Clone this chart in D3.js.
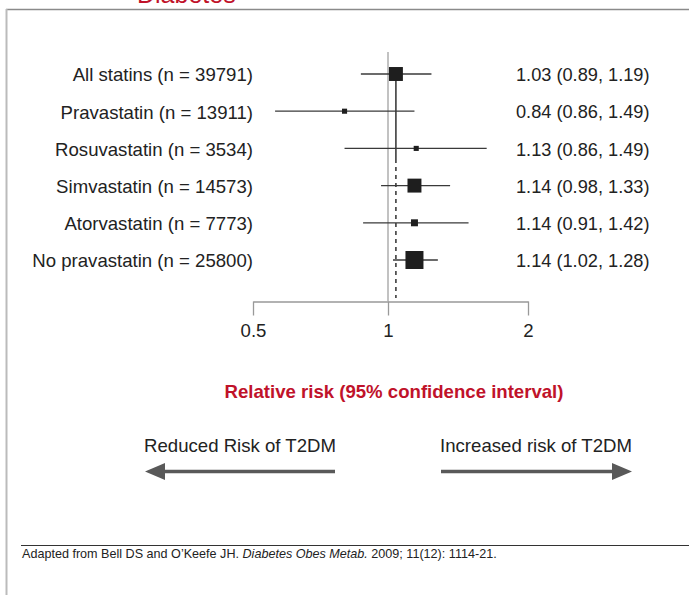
<!DOCTYPE html>
<html>
<head>
<meta charset="utf-8">
<script src="https://cdn.jsdelivr.net/npm/d3@7"></script>
<style>
  body { margin: 0; background: #fff; }
  svg { display: block; font-family: "Liberation Sans", Arial, sans-serif; }
</style>
</head>
<body>
<svg id="chart" width="689" height="595"></svg>
<script>
// Study rows, top to bottom
const labels = [
    'All statins (n = 39791)',
    'Pravastatin (n = 13911)',
    'Rosuvastatin (n = 3534)',
    'Simvastatin (n = 14573)',
    'Atorvastatin (n = 7773)',
    'No pravastatin (n = 25800)'
];
// Relative risk and CI as drawn in the plot
const rr = [1.04, 0.80, 1.15, 1.14, 1.14, 1.14];
const lo = [0.87, 0.56, 0.80, 0.965, 0.88, 1.025];
const hi = [1.24, 1.14, 1.63, 1.36, 1.49, 1.28];
// Relative weight of each study (square area)
const weights = [0.6, 0.08, 0.08, 0.6, 0.15, 1.0];
// Printed estimates on the right
const ciText = [
    '1.03 (0.89, 1.19)',
    '0.84 (0.86, 1.49)',
    '1.13 (0.86, 1.49)',
    '1.14 (0.98, 1.33)',
    '1.14 (0.91, 1.42)',
    '1.14 (1.02, 1.28)'
];
const overall = 1.04;
const tickValues = [0.5, 1, 2];

const svg = d3.select('#chart');
const red = '#c0122a';
const fs = '18.6px';

const rows = labels.map((label, i) => ({
    label: label, rr: rr[i], lo: lo[i], hi: hi[i], w: weights[i], text: ciText[i]
}));

// Scales
const x = d3.scaleLog().domain([0.5, 1, 2]).range([253, 388, 528]);
const y = d3.scalePoint().domain(labels).range([74, 260]);
const size = d3.scaleSqrt().domain([0, 1]).range([0, 18]);

// Frame and title (title is cut off at the top in the source slide)
svg.append('text')
    .attr('x', 137).attr('y', 3)
    .attr('fill', red)
    .style('font-size', '25px')
    .text('Diabetes');
svg.append('line')
    .attr('x1', 6).attr('x2', 689).attr('y1', 9.5).attr('y2', 9.5)
    .attr('stroke', '#8a8a8a').attr('stroke-width', 1.5);
svg.append('line')
    .attr('x1', 6.5).attr('x2', 6.5).attr('y1', 9).attr('y2', 595)
    .attr('stroke', '#bbb').attr('stroke-width', 2);

// Reference line at RR = 1
svg.append('line')
    .attr('x1', x(1)).attr('x2', x(1)).attr('y1', 52).attr('y2', 301)
    .attr('stroke', '#999').attr('stroke-width', 1.2);

// Overall estimate line: solid through upper rows, dashed below
const midY = (y(labels[2]) + y(labels[3])) / 2 - 8;
svg.append('line')
    .attr('x1', x(overall)).attr('x2', x(overall))
    .attr('y1', y(labels[0])).attr('y2', midY)
    .attr('stroke', '#111').attr('stroke-width', 1.3);
svg.append('line')
    .attr('x1', x(overall)).attr('x2', x(overall))
    .attr('y1', midY).attr('y2', 298)
    .attr('stroke', '#111').attr('stroke-width', 1.3)
    .attr('stroke-dasharray', '4,4');

// CI lines
svg.selectAll('.ci')
    .data(rows)
    .enter()
    .append('line')
    .attr('class', 'ci')
    .attr('x1', d => x(d.lo))
    .attr('x2', d => x(d.hi))
    .attr('y1', d => y(d.label))
    .attr('y2', d => y(d.label))
    .attr('stroke', '#3a3a3a')
    .attr('stroke-width', 1.3);

// Squares
svg.selectAll('.pt')
    .data(rows)
    .enter()
    .append('rect')
    .attr('class', 'pt')
    .attr('x', d => x(d.rr) - size(d.w) / 2)
    .attr('y', d => y(d.label) - size(d.w) / 2)
    .attr('width', d => size(d.w))
    .attr('height', d => size(d.w))
    .attr('fill', '#1e1e1e');

// Row labels
svg.selectAll('.lab')
    .data(rows)
    .enter()
    .append('text')
    .attr('class', 'lab')
    .attr('x', 253)
    .attr('y', d => y(d.label))
    .attr('dy', '0.4em')
    .attr('text-anchor', 'end')
    .attr('fill', '#222')
    .style('font-size', fs)
    .text(d => d.label);

svg.selectAll('.est')
    .data(rows)
    .enter()
    .append('text')
    .attr('class', 'est')
    .attr('x', 516)
    .attr('y', d => y(d.label))
    .attr('dy', '0.4em')
    .attr('fill', '#222')
    .style('font-size', '18.2px')
    .text(d => d.text);

// Axis
const axis = d3.axisBottom(x)
    .tickValues(tickValues)
    .tickFormat(d3.format('~g'))
    .tickSize(14)
    .tickSizeOuter(0)
    .tickPadding(8);
const gAxis = svg.append('g')
    .attr('transform', 'translate(0,301.5)')
    .call(axis);
gAxis.selectAll('path, line').attr('stroke', '#999').attr('stroke-width', 1.3);
gAxis.selectAll('text')
    .attr('fill', '#222')
    .style('font-size', fs)
    .style('font-family', '"Liberation Sans", Arial, sans-serif');

// Axis title
svg.append('text')
    .attr('x', 394).attr('y', 398)
    .attr('text-anchor', 'middle')
    .attr('fill', red)
    .style('font-size', fs)
    .style('font-weight', 'bold')
    .text('Relative risk (95% confidence interval)');

// Direction arrows
svg.append('text')
    .attr('x', 240).attr('y', 452)
    .attr('text-anchor', 'middle')
    .attr('fill', '#222')
    .style('font-size', fs)
    .text('Reduced Risk of T2DM');
svg.append('text')
    .attr('x', 536).attr('y', 452)
    .attr('text-anchor', 'middle')
    .attr('fill', '#222')
    .style('font-size', fs)
    .text('Increased risk of T2DM');

const arrowY = 471.5;
const arrowColor = '#595959';
svg.append('line')
    .attr('x1', 160).attr('x2', 335).attr('y1', arrowY).attr('y2', arrowY)
    .attr('stroke', arrowColor).attr('stroke-width', 3.5);
svg.append('path')
    .attr('d', `M145,${arrowY} L165,${arrowY - 8.5} L165,${arrowY + 8.5} Z`)
    .attr('fill', arrowColor);
svg.append('line')
    .attr('x1', 441).attr('x2', 616).attr('y1', arrowY).attr('y2', arrowY)
    .attr('stroke', arrowColor).attr('stroke-width', 3.5);
svg.append('path')
    .attr('d', `M632,${arrowY} L612,${arrowY - 8.5} L612,${arrowY + 8.5} Z`)
    .attr('fill', arrowColor);

// Footer
svg.append('line')
    .attr('x1', 21).attr('x2', 689).attr('y1', 545.5).attr('y2', 545.5)
    .attr('stroke', '#333').attr('stroke-width', 1);
const foot = svg.append('text')
    .attr('x', 22).attr('y', 558)
    .attr('fill', '#222')
    .style('font-size', '12.6px');
foot.append('tspan').text('Adapted from Bell DS and O\u2019Keefe JH. ');
foot.append('tspan').style('font-style', 'italic').text('Diabetes Obes Metab.');
foot.append('tspan').text(' 2009; 11(12): 1114-21.');
</script>
</body>
</html>
